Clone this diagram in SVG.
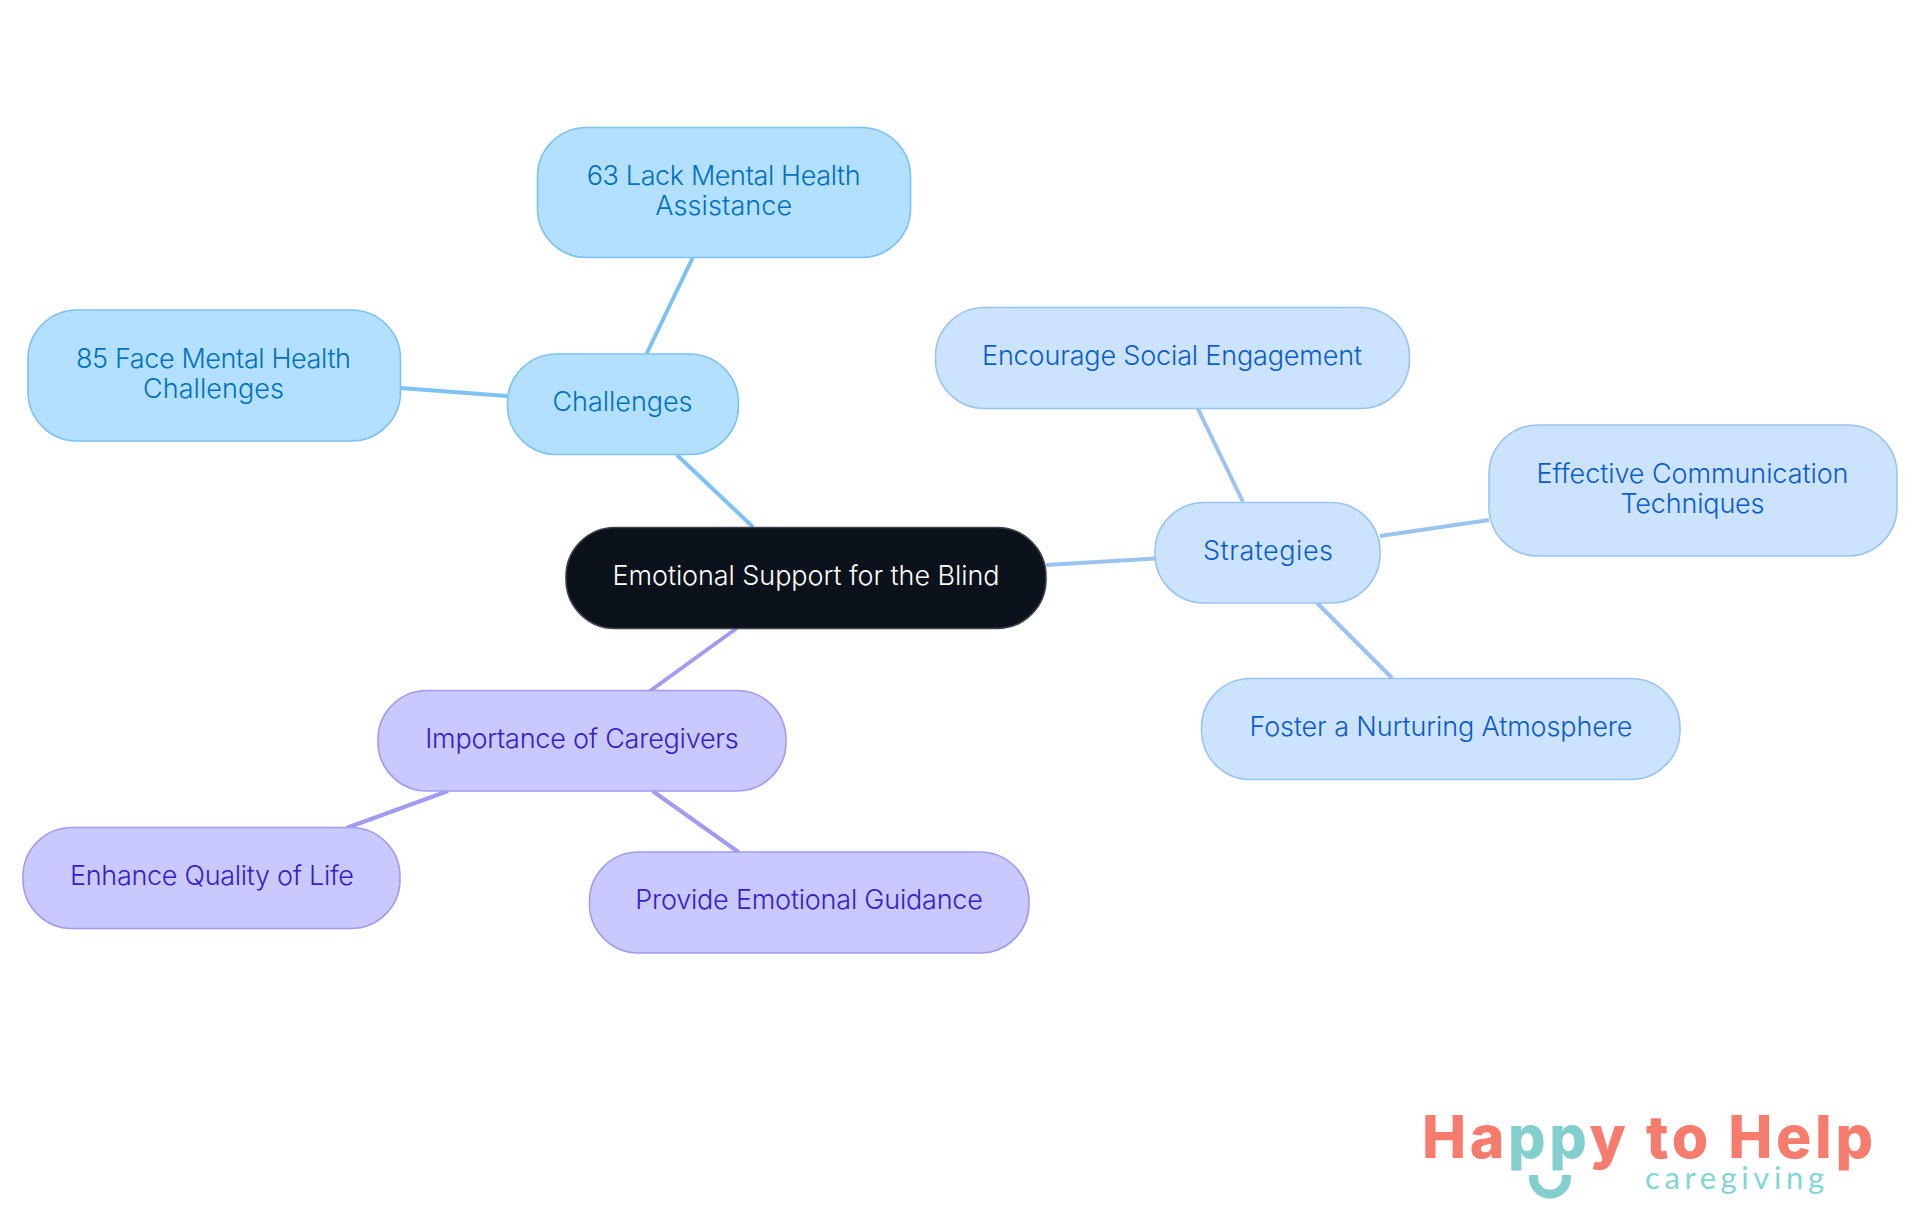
<svg xmlns="http://www.w3.org/2000/svg" width="1920" height="1215" viewBox="0 0 1920 1215">
<style>
text{font-family:"Inter","Noto Sans","Liberation Sans",sans-serif;font-size:27px;font-weight:300;text-anchor:middle}
.n{stroke-width:1.6}
.a rect{fill:#b3e0ff;stroke:#7cc2f3}.a text{fill:#0070c0}
.b rect{fill:#cce3fd;stroke:#9bc3f1}.b text{fill:#0a5ccd}
.c rect{fill:#c9c9ff;stroke:#9f9cf1}.c text{fill:#3420c8}
.r rect{fill:#0b121b;stroke:#3d4147}.r text{fill:#fff}
#connectors line{stroke-width:4;fill:none}
</style>
<rect width="1920" height="1215" fill="#fff"/>
<g id="connectors">
<line x1="677" y1="455" x2="753" y2="527" stroke="#7cc2f3"/>
<line x1="646.5" y1="354" x2="693" y2="257" stroke="#7cc2f3"/>
<line x1="507" y1="396" x2="400" y2="388" stroke="#7cc2f3"/>
<line x1="1046" y1="565" x2="1155" y2="558.5" stroke="#9bc3f1"/>
<line x1="1243" y1="502" x2="1197.5" y2="408" stroke="#9bc3f1"/>
<line x1="1380" y1="536" x2="1489" y2="520" stroke="#9bc3f1"/>
<line x1="1317" y1="603" x2="1392" y2="678" stroke="#9bc3f1"/>
<line x1="737" y1="628" x2="650" y2="691" stroke="#9f9cf1"/>
<line x1="448" y1="791" x2="346.5" y2="828" stroke="#9f9cf1"/>
<line x1="652.6" y1="791" x2="738.4" y2="852" stroke="#9f9cf1"/>
</g>
<g id="root" class="r"><rect class="n" x="566" y="527.500" width="480" height="101" rx="49"/><text x="806" y="585" textLength="387" lengthAdjust="spacing">Emotional Support for the Blind</text></g>
<g id="challenges" class="a"><rect class="n" x="507.500" y="354" width="231" height="100.500" rx="49"/><text x="622.500" y="411" textLength="140">Challenges</text></g>
<g id="lack" class="a"><rect class="n" x="537.500" y="127.500" width="373" height="130" rx="49"/><text x="723.700" y="185" textLength="274">63 Lack Mental Health</text><text x="723.700" y="215" textLength="137">Assistance</text></g>
<g id="face" class="a"><rect class="n" x="28" y="310" width="372.500" height="131" rx="49"/><text x="213.500" y="368" textLength="275">85 Face Mental Health</text><text x="213.500" y="398" textLength="141">Challenges</text></g>
<g id="strategies" class="b"><rect class="n" x="1155" y="502.500" width="225" height="100.500" rx="49"/><text x="1268" y="560" textLength="130">Strategies</text></g>
<g id="social" class="b"><rect class="n" x="935.500" y="307.500" width="474" height="101" rx="49"/><text x="1172" y="365" textLength="380">Encourage Social Engagement</text></g>
<g id="communication" class="b"><rect class="n" x="1489" y="425" width="408" height="131" rx="49"/><text x="1692.500" y="483" textLength="312">Effective Communication</text><text x="1692.500" y="513" textLength="144">Techniques</text></g>
<g id="nurturing" class="b"><rect class="n" x="1201.500" y="678.500" width="478.500" height="101" rx="49"/><text x="1441" y="736" textLength="383">Foster a Nurturing Atmosphere</text></g>
<g id="caregivers" class="c"><rect class="n" x="378" y="690.500" width="408" height="100.500" rx="49"/><text x="582" y="748" textLength="313.500">Importance of Caregivers</text></g>
<g id="quality" class="c"><rect class="n" x="23" y="827.500" width="377" height="101" rx="49"/><text x="212" y="885" textLength="284">Enhance Quality of Life</text></g>
<g id="guidance" class="c"><rect class="n" x="589.500" y="852" width="439.500" height="101" rx="49"/><text x="809" y="909" textLength="347.700">Provide Emotional Guidance</text></g>
<g id="logo">
<text x="1422" y="1158" style="font-size:59px;font-weight:800;text-anchor:start" fill="#f87c6d" textLength="451"><tspan>Ha</tspan><tspan fill="#82cfcd">pp</tspan><tspan>y to Help</tspan></text>
<text x="1645" y="1189" style="font-family:'Lato','Liberation Sans',sans-serif;font-size:31px;font-weight:400;text-anchor:start" fill="#82d6d4" textLength="179">caregiving</text>
<path d="M1533.500 1175V1177.700A16.500 16.500 0 0 0 1566.500 1177.700V1175" fill="none" stroke="#82cfcd" stroke-width="9"/>
</g>
</svg>
